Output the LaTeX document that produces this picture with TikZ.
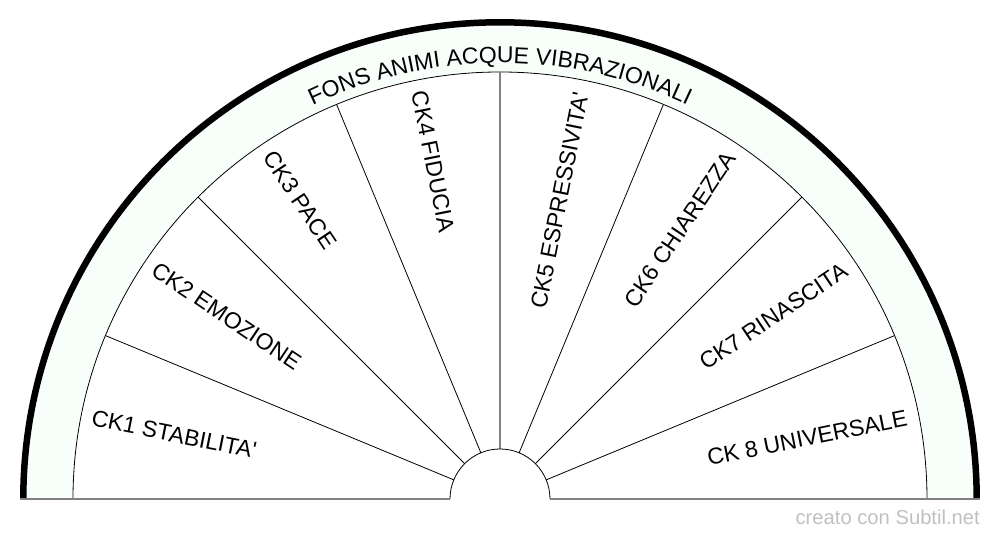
\documentclass[tikz,border=0pt]{standalone}
\usepackage{fontspec}
\setmainfont{Liberation Sans}
\usetikzlibrary{decorations.text}

\definecolor{ringfill}{RGB}{248,255,250}
\definecolor{basegray}{RGB}{128,128,128}
\definecolor{creditgray}{RGB}{192,192,192}

\newcommand{\lblfont}{\fontsize{23}{27}\selectfont}
\tikzstyle{lbl} = [inner sep=0pt, font=\lblfont]

\begin{document}
\begin{tikzpicture}[x=1pt,y=1pt]
\useasboundingbox (-500,-41) rectangle (500,499);

%RING
\fill[ringfill] (0:476) arc[start angle=0,end angle=180,radius=476]
  -- (180:427) arc[start angle=180,end angle=0,radius=427] -- cycle;
\draw[line width=6.5pt] (0:476.7) arc[start angle=0,end angle=180,radius=476.7];
\draw[line width=0.8pt] (0:427) arc[start angle=0,end angle=180,radius=427];
\path[decorate, decoration={text along path, text align=center,
  text={|\lblfont|FONS ANIMI ACQUE VIBRAZIONALI}}]
  (180:436) arc[start angle=180,end angle=0,radius=436];

%SPOKES
\foreach \a in {22.5,45,67.5,112.5,135,157.5} {%
 \draw[line width=0.8pt] (\a:50) -- (\a:427);
}
\draw[basegray, line width=1.5pt] (90:50) -- (90:427);

%HUB
\draw[line width=0.8pt] (0:50) arc[start angle=0,end angle=180,radius=50];

%BASE
\draw[basegray, line width=1.5pt] (-480,0) -- (-50,0);
\draw[basegray, line width=1.5pt] (50,0) -- (480,0);

%LABELS left half
\foreach \a/\t [count=\i] in {168.75/CK1 STABILITA\textquotesingle,
  146.25/CK2 EMOZIONE, 123.75/CK3 PACE, 101.25/CK4 FIDUCIA} {%
 \node[lbl, anchor=west, rotate=\a-180] (ck\i) at (\a:416) {\t};
}
%LABELS right half
\foreach \a/\t [count=\i from 5] in {78.75/CK5 ESPRESSIVITA\textquotesingle,
  56.25/CK6 CHIAREZZA, 33.75/CK7 RINASCITA, 11.25/CK 8 UNIVERSALE} {%
 \node[lbl, anchor=east, rotate=\a] (ck\i) at (\a:415) {\t};
}

\node[anchor=base east, inner sep=0pt, text=creditgray,
  font=\fontsize{20.2}{23}\selectfont] (credit) at (480,-26) {creato con Subtil.net};
\end{tikzpicture}
\end{document}
